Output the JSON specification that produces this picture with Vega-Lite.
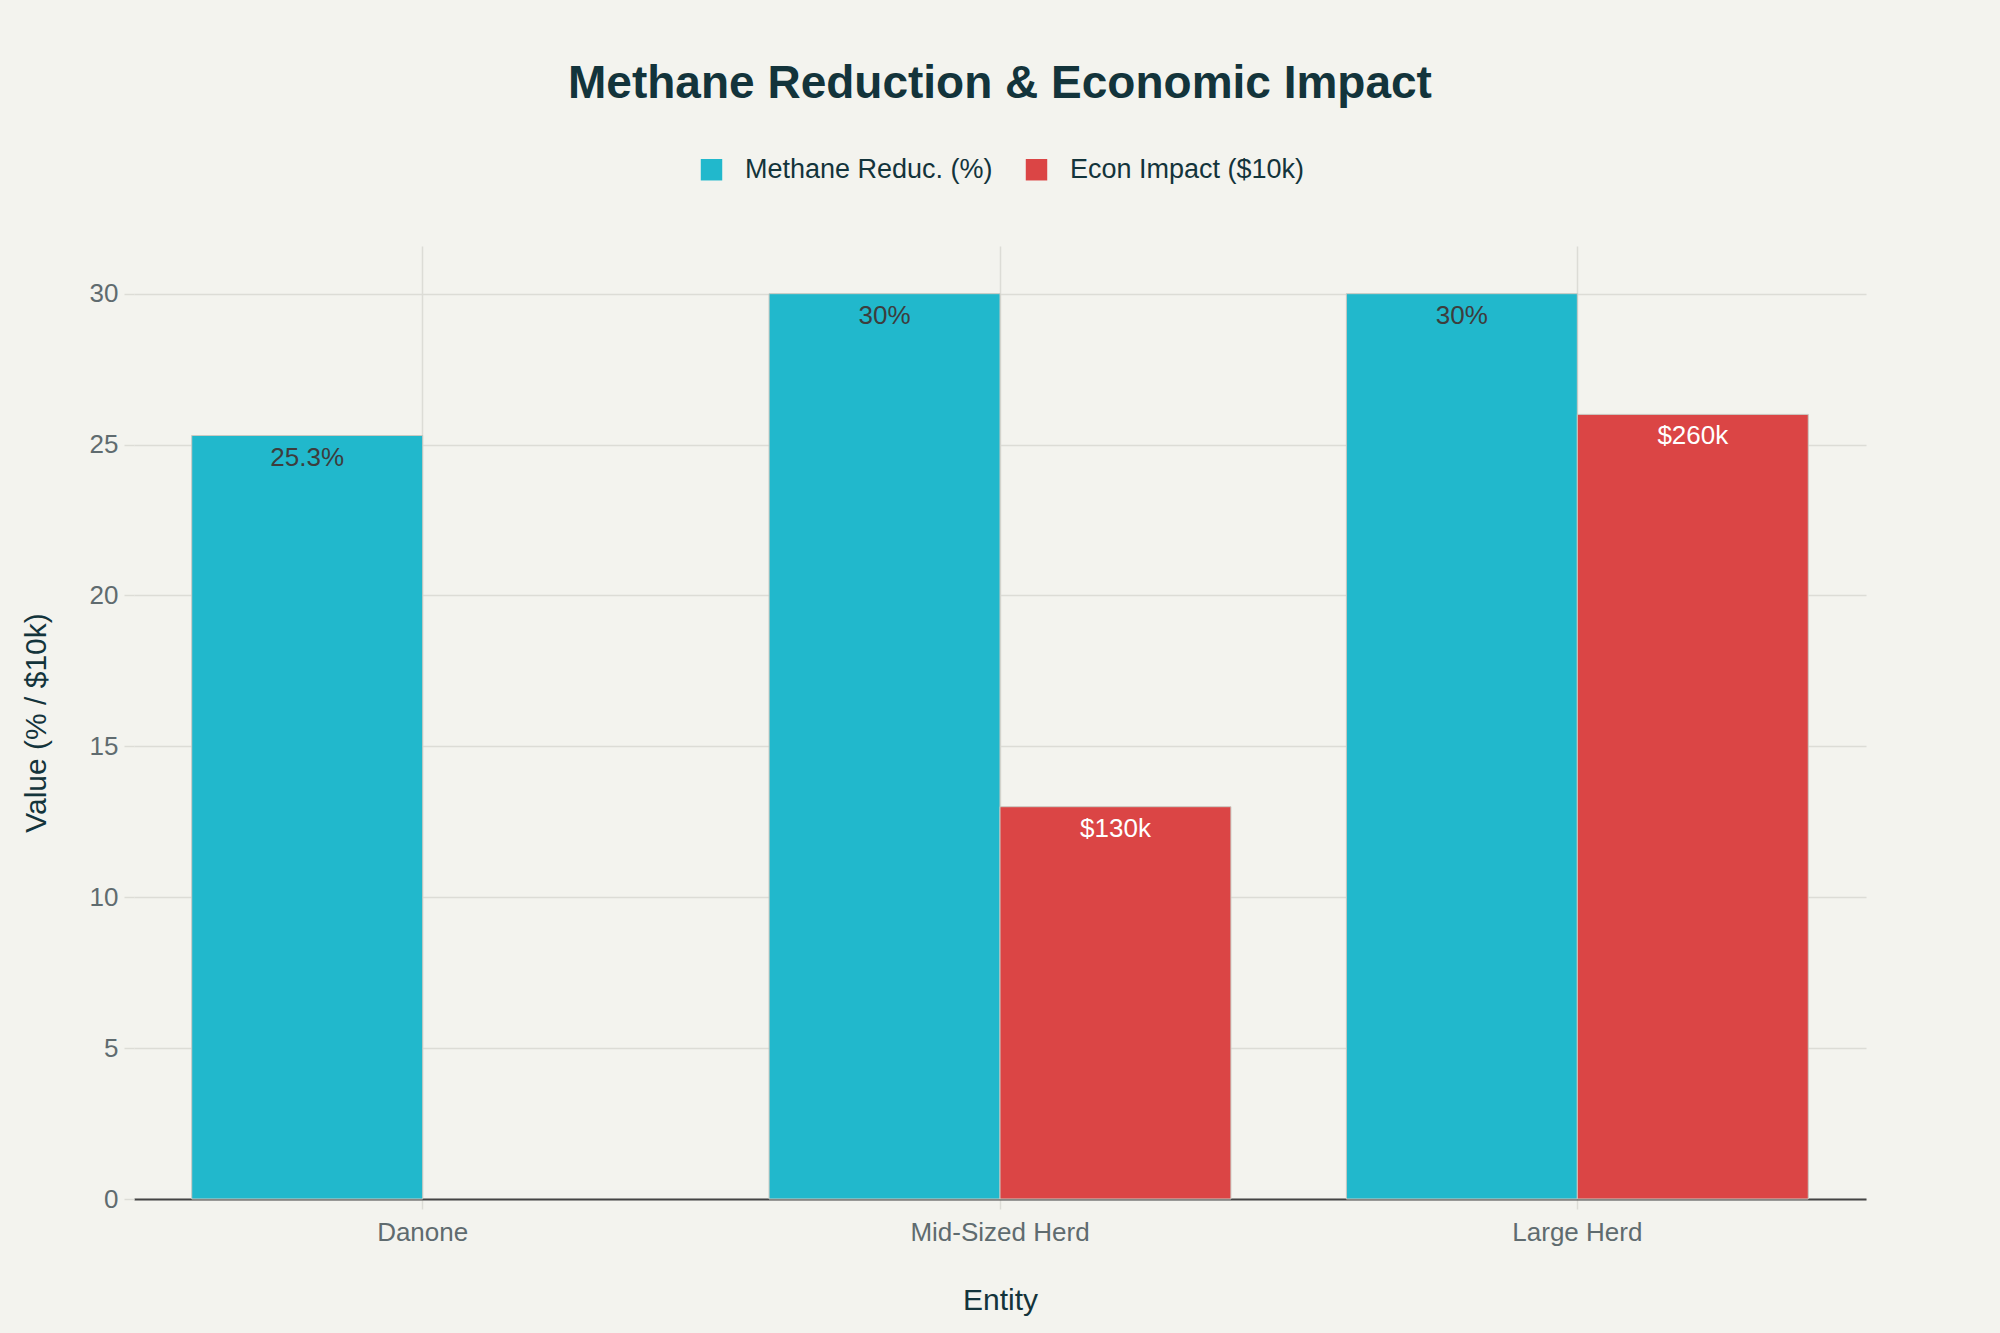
{
  "$schema": "https://vega.github.io/schema/vega-lite/v6.json",
  "width": 1732,
  "height": 953,
  "autosize": {"type": "none"},
  "padding": {"left": 134, "top": 246, "right": 134, "bottom": 134},
  "background": "#F3F3EE",
  "title": {
    "text": "Methane Reduction & Economic Impact",
    "anchor": "middle",
    "font": "Liberation Sans",
    "fontSize": 46,
    "fontWeight": "bold",
    "color": "#13343B",
    "offset": 48
  },
  "config": {
    "view": {"stroke": null},
    "font": "Liberation Sans"
  },
  "data": {
    "values": [
      {"entity": "Danone", "series": "Methane Reduc. (%)", "value": 25.3, "label": "25.3%"},
      {"entity": "Mid-Sized Herd", "series": "Methane Reduc. (%)", "value": 30, "label": "30%"},
      {"entity": "Large Herd", "series": "Methane Reduc. (%)", "value": 30, "label": "30%"},
      {"entity": "Mid-Sized Herd", "series": "Econ Impact ($10k)", "value": 13, "label": "$130k"},
      {"entity": "Large Herd", "series": "Econ Impact ($10k)", "value": 26, "label": "$260k"}
    ]
  },
  "encoding": {
    "x": {
      "field": "entity",
      "type": "nominal",
      "sort": ["Danone", "Mid-Sized Herd", "Large Herd"],
      "scale": {"paddingInner": 0, "paddingOuter": 0},
      "axis": {
        "title": "Entity",
        "titleFont": "Liberation Sans",
        "titleFontSize": 30,
        "titleFontWeight": "normal",
        "titleColor": "#13343B",
        "titlePadding": 40,
        "labelFontSize": 26,
        "labelColor": "#5F6B6F",
        "labelAngle": 0,
        "labelPadding": 10,
        "bandPosition": 0.5,
        "grid": true,
        "gridColor": "#DCDCD6",
        "gridWidth": 1.5,
        "domainColor": "#444444",
        "domainWidth": 2,
        "tickColor": "#DCDCD6",
        "tickSize": 10,
        "tickWidth": 1.5
      }
    },
    "xOffset": {
      "field": "series",
      "type": "nominal",
      "scale": {"domain": ["Methane Reduc. (%)", "Econ Impact ($10k)"], "paddingInner": 0, "paddingOuter": 0.25}
    },
    "y": {
      "field": "value",
      "type": "quantitative",
      "scale": {"domain": [0, 31.58], "nice": false},
      "axis": {
        "title": "Value (% / $10k)",
        "titleFontSize": 30,
        "titleFontWeight": "normal",
        "titleColor": "#13343B",
        "titlePadding": 38,
        "values": [0, 5, 10, 15, 20, 25, 30],
        "labelFontSize": 26,
        "labelColor": "#5F6B6F",
        "labelPadding": 6,
        "domain": false,
        "grid": true,
        "gridColor": "#DCDCD6",
        "gridWidth": 1.5,
        "tickColor": "#DCDCD6",
        "tickSize": 10,
        "tickWidth": 1.5
      }
    }
  },
  "layer": [
    {
      "mark": {"type": "bar", "stroke": "#C9C9C2", "strokeWidth": 1},
      "encoding": {
        "color": {
          "field": "series",
          "type": "nominal",
          "scale": {"domain": ["Methane Reduc. (%)", "Econ Impact ($10k)"], "range": ["#21B8CC", "#DB4545"]},
          "legend": {
            "title": null,
            "orient": "none",
            "direction": "horizontal",
            "legendX": 564,
            "legendY": -90,
            "symbolType": "square",
            "symbolSize": 460,
            "symbolStrokeWidth": 0,
            "labelFontSize": 27,
            "labelLimit": 0,
            "labelColor": "#13343B",
            "labelOffset": 20,
            "columnPadding": 30
          }
        }
      }
    },
    {
      "mark": {"type": "text", "baseline": "middle", "dy": 22, "fontSize": 26},
      "encoding": {
        "text": {"field": "label"},
        "color": {
          "condition": {"test": "datum.series === 'Econ Impact ($10k)'", "value": "#FFFFFF"},
          "value": "#3D3D3D"
        }
      }
    }
  ]
}
